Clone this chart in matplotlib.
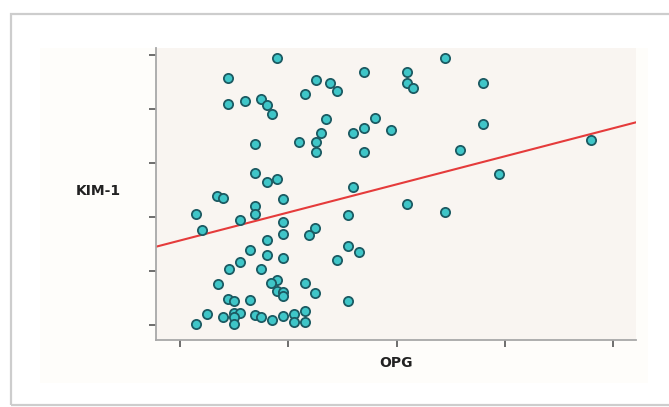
import numpy as np
import matplotlib
matplotlib.use("Agg")
import matplotlib.pyplot as plt
from matplotlib.patches import Rectangle

# OPG (x) vs KIM-1 (y); axis units are tick steps
opg = [
    0.90, 2.45, 1.70, 2.10, 0.44, 1.26, 1.39, 2.10, 2.80, 1.45,
    2.15, 1.15, 0.60, 0.44, 0.75, 0.80, 0.85, 1.80, 1.35, 2.80,
    1.70, 1.95, 1.60, 1.30, 3.80, 0.69, 1.10, 1.26, 1.26, 1.70,
    2.59, 0.69, 2.95, 0.80, 0.90, 1.60, 0.34, 0.40, 0.95, 2.10,
    0.69, 2.45, 0.15, 0.69, 1.55, 0.55, 0.95, 0.20, 1.25, 1.19,
    0.95, 0.80, 1.55, 0.65, 0.80, 1.65, 0.95, 1.45, 0.55, 0.45,
    0.75, 0.90, 0.84, 1.15, 0.35, 0.90, 0.95, 0.95, 1.25, 0.44,
    0.50, 0.65, 1.55, 0.25, 0.40, 0.50, 0.55, 0.50, 0.50, 0.69,
    0.75, 0.85, 0.95, 1.05, 1.15, 0.15, 1.05, 1.15,
]
kim1 = [
    4.95, 4.95, 4.69, 4.69, 4.57, 4.54, 4.49, 4.49, 4.48, 4.33,
    4.38, 4.27, 4.15, 4.09, 4.19, 4.08, 3.90, 3.83, 3.81, 3.73,
    3.65, 3.62, 3.56, 3.55, 3.42, 3.36, 3.39, 3.39, 3.20, 3.20,
    3.25, 2.81, 2.79, 2.65, 2.71, 2.56, 2.38, 2.36, 2.33, 2.24,
    2.21, 2.09, 2.06, 2.06, 2.03, 1.94, 1.90, 1.76, 1.79, 1.67,
    1.69, 1.58, 1.46, 1.39, 1.30, 1.35, 1.24, 1.21, 1.16, 1.03,
    1.03, 0.84, 0.78, 0.77, 0.75, 0.63, 0.62, 0.54, 0.60, 0.49,
    0.45, 0.46, 0.45, 0.21, 0.14, 0.22, 0.22, 0.14, 0.01, 0.18,
    0.15, 0.10, 0.16, 0.21, 0.26, 0.02, 0.05, 0.06,
]

# fit line as drawn in the reference
fit_intercept = 1.565
fit_slope = 0.5195

x_ticks = [0, 1, 2, 3, 4]
y_ticks = [0, 1, 2, 3, 4, 5]

W, H = 669, 407
fig = plt.figure(figsize=(W / 100, H / 100), dpi=100)

# outer frame and faint chart area (behind the axes)
fig.patches.append(Rectangle((11 / W, 2 / H), 700 / W, 391 / H, transform=fig.transFigure,
                             fill=False, edgecolor="#cdcdcd", linewidth=1.6, zorder=-10))
fig.patches.append(Rectangle((40 / W, 24 / H), 608 / W, 335 / H, transform=fig.transFigure,
                             facecolor="#fefdfa", edgecolor="none", zorder=-11))

ax = fig.add_axes([155.5 / W, 67 / H, 480.5 / W, 292 / H])
ax.set_facecolor("#f9f5f1")

ax.scatter(opg, kim1, s=44, c="#3fc6c8", edgecolors="#1c5a62", linewidths=1.3, zorder=3)

xl = np.array([-0.23, 4.215])
ax.plot(xl, fit_intercept + fit_slope * xl, color="#e53b3b", linewidth=1.5, zorder=2)

ax.set_xlim(-0.227, 4.213)
ax.set_ylim(-0.278, 5.13)
ax.set_xticks(x_ticks)
ax.set_yticks(y_ticks)
ax.set_xticklabels([])
ax.set_yticklabels([])
ax.tick_params(axis="both", direction="out", length=5, width=1.2, color="#555555")

for s in ["top", "right"]:
    ax.spines[s].set_visible(False)
for s in ["left", "bottom"]:
    ax.spines[s].set_color("#a8a8a8")
    ax.spines[s].set_linewidth(1.3)

fig.text(98 / W, 1 - 191 / H, "KIM-1", ha="center", va="center",
         fontsize=10, fontweight="bold", color="#222222")
fig.text(396 / W, 1 - 363 / H, "OPG", ha="center", va="center",
         fontsize=10, fontweight="bold", color="#222222")

fig.savefig("out.png", dpi=100)
